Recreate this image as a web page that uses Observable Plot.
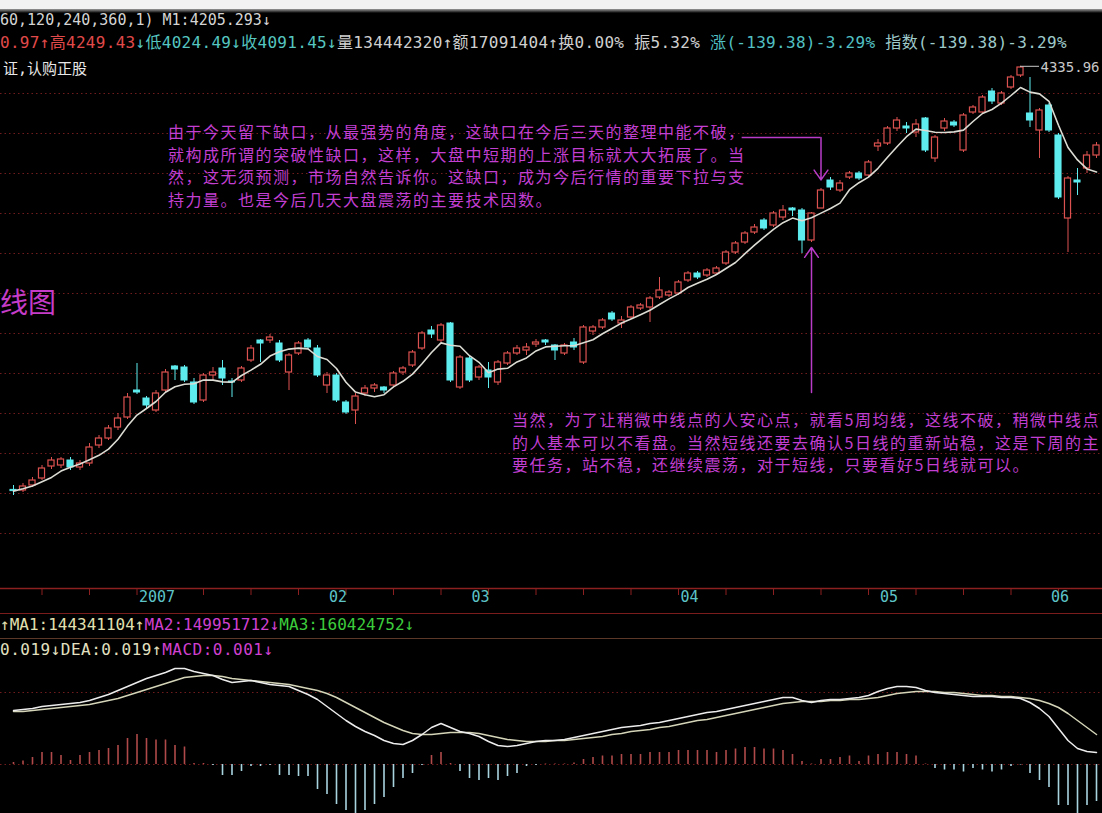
<!DOCTYPE html>
<html><head><meta charset="utf-8">
<script src="https://cdn.jsdelivr.net/npm/d3@7"></script>
<script src="https://cdn.jsdelivr.net/npm/@observablehq/plot@0.6"></script>
<style>
html,body{margin:0;padding:0;background:#000;}
#wrap{position:relative;width:1102px;height:813px;overflow:hidden;background:#000;}
#wrap svg{position:absolute;left:0;}
.t{position:absolute;white-space:nowrap;font-family:"DejaVu Sans Mono","Noto Sans CJK SC",monospace;z-index:5;}
.ann{position:absolute;white-space:nowrap;font-family:"Noto Sans CJK SC",sans-serif;font-size:16px;line-height:22.7px;letter-spacing:1.5px;color:#c23fd2;z-index:5;}
.hl{position:absolute;left:0;width:1102px;height:0;z-index:4;}
</style></head>
<body><div id="wrap"></div>
<script>
// ---------- data (daily candles, index points) ----------
const open = [2218,2215,2240,2275,2335,2340,2365,2330,2350,2440,
2475,2530,2580,2715,2675,2615,2715,2835,2830,2755,
2665,2790,2825,2760,2765,2865,2965,2965,2950,2805,
2900,2965,2925,2740,2790,2655,2615,2700,2725,2730,
2740,2805,2840,2925,3015,2965,3050,2730,2875,2780,
2815,2755,2850,2900,2915,2945,2965,2940,2900,2955,
2855,3010,3030,3100,3050,3080,3125,3130,3180,3190,
3200,3265,3300,3290,3300,3350,3405,3455,3505,3565,
3540,3580,3625,3615,3465,3625,3765,3715,3780,3800,
3790,3935,3950,4025,4035,4005,4075,3875,4025,4055,
3915,4105,4105,4210,4150,4230,4290,4100,4015,4140,
3990,3575,3765,3825,3890];
const high = [2240,2250,2280,2340,2380,2380,2380,2365,2450,2490,
2540,2600,2700,2850,2685,2715,2820,2840,2840,2775,
2800,2830,2865,2775,2835,2940,2970,2995,2965,2900,
2960,2975,2940,2805,2800,2665,2700,2740,2750,2735,
2810,2835,2915,3010,3035,3050,3055,2890,2885,2840,
2855,2865,2910,2940,2950,2970,2970,2945,2950,2975,
3040,3040,3075,3110,3085,3140,3150,3185,3280,3215,
3265,3310,3310,3325,3335,3415,3460,3510,3545,3575,
3610,3640,3630,3625,3605,3725,3780,3765,3810,3810,
3865,3970,4035,4080,4055,4070,4080,3990,4075,4065,
4100,4140,4190,4225,4210,4290,4335.96,4280,4125,4150,
4000,3785,3825,3910,3955];
const low = [2190,2205,2230,2265,2320,2325,2315,2315,2335,2425,
2465,2515,2570,2695,2625,2605,2705,2765,2755,2645,
2655,2765,2740,2680,2755,2855,2855,2950,2855,2715,
2890,2920,2780,2700,2655,2595,2545,2685,2705,2700,
2730,2790,2830,2915,2975,2955,2755,2720,2755,2765,
2725,2740,2840,2890,2890,2930,2940,2865,2890,2915,
2845,2990,3020,3060,3025,3070,3115,3055,3170,3180,
3190,3255,3270,3280,3290,3340,3395,3445,3495,3515,
3530,3565,3585,3400,3455,3625,3715,3705,3770,3765,
3780,3910,3940,4010,4000,3980,3905,3855,4010,4030,
3905,4095,4095,4145,4140,4220,4280,4030,3875,4005,
3670,3405,3690,3800,3875];
const close = [2212,2235,2265,2325,2365,2370,2330,2350,2430,2475,
2525,2575,2680,2705,2640,2700,2805,2820,2765,2655,
2790,2805,2775,2755,2825,2925,2950,2980,2865,2890,
2950,2930,2790,2790,2665,2605,2685,2725,2740,2715,
2800,2825,2905,3000,2995,3040,2765,2880,2765,2830,
2780,2855,2900,2925,2930,2955,2955,2915,2940,2930,
3030,3030,3065,3070,3065,3130,3140,3175,3215,3205,
3255,3300,3280,3315,3325,3405,3450,3500,3530,3525,
3600,3615,3615,3465,3600,3715,3730,3750,3800,3775,
3855,3950,4025,4065,4025,4045,3915,3980,4060,4040,
4090,4130,4180,4160,4200,4280,4330,4065,4115,4015,
3680,3775,3755,3890,3940];
// MACD indicator values
const dif = [108,110,112,116,118,120,122,124,128,134,
140,148,156,164,172,178,184,192,192,186,
182,178,170,164,166,168,164,160,158,156,
148,140,130,116,102,88,76,66,58,48,
42,40,48,60,74,82,74,66,62,56,
46,38,36,38,42,46,48,48,50,54,
58,62,66,70,74,76,78,82,84,88,
92,96,100,104,106,110,114,118,122,126,
130,134,134,128,124,128,130,130,132,134,
138,146,152,156,156,154,148,144,142,140,
138,136,136,136,134,134,132,124,112,96,
72,48,32,26,24];
const dea = [106,106,108,110,112,114,116,118,120,124,
128,132,138,144,150,156,162,168,174,176,
178,178,176,172,170,168,166,164,162,160,
156,152,148,142,134,124,114,104,94,84,
76,68,62,60,60,62,64,64,64,62,
58,54,50,48,46,46,46,48,48,50,
52,54,56,60,62,66,68,70,74,76,
80,84,88,90,94,98,102,106,110,114,
118,122,124,126,126,126,128,128,130,130,
132,134,138,142,144,146,146,146,144,144,
142,140,138,138,136,136,134,132,128,122,
114,102,88,74,60];
const macdHist = [4,7,14,24,24,18,8,18,24,28,
32,38,52,60,52,49,49,38,35,2,
2,-2,-22,-22,-14,-4,-4,-2,-22,-22,
-24,-24,-50,-60,-80,-92,-98,-92,-80,-66,
-46,-28,-18,-2,18,24,2,-14,-28,-32,
-28,-32,-24,-18,-4,-2,1,1,1,3,
10,14,17,17,20,20,20,24,24,24,
28,28,28,28,24,28,31,34,34,31,
31,28,20,6,1,10,10,14,17,6,
17,20,24,24,20,17,1,-8,-11,-11,
-15,-8,-11,-15,-11,-4,-1,-18,-32,-46,
-82,-82,-99,-82,-74];
const gridLevels = [4200,4000,3800,3600,3400,3200,3000,2800,2600,2400,2200,2000];
const monthIdx = [13,33,48,70,91,109];
const monthLabels = ["2007","02","03","04","05","06"];
const weekTicks = [3,8,13,20,25,30,35,40,45,50,55,60,65,70,75,80,85,90,95,100,105,110];
const peak = [{i:106, v:4335.96}];
const annotLines = [{x1:76.7, x2:85, y:3980}];
const annotArrows = [{x1:85, y1:3980, x2:85, y2:3768},{x1:84, y1:2705, x2:84, y2:3430}];
const annot1 = ["由于今天留下缺口，从最强势的角度，这缺口在今后三天的整理中能不破，",
"就构成所谓的突破性缺口，这样，大盘中短期的上涨目标就大大拓展了。当",
"然，这无须预测，市场自然告诉你。这缺口，成为今后行情的重要下拉与支",
"持力量。也是今后几天大盘震荡的主要技术因数。"];
const annot2 = ["当然，为了让稍微中线点的人安心点，就看5周均线，这线不破，稍微中线点",
"的人基本可以不看盘。当然短线还要去确认5日线的重新站稳，这是下周的主",
"要任务，站不稳，还继续震荡，对于短线，只要看好5日线就可以。"];

// ---------- build ----------
const RED = "#dc5250", CYAN = "#5eecef", GRID = "#701c1c", AX = "#8c2020", MAG = "#b83cc8";
const data = close.map((c, i) => ({i, o: open[i], h: high[i], l: low[i], c}));
const up = data.filter(d => d.c >= d.o), dn = data.filter(d => d.c < d.o);
const xDomain = [-13 / 9.5, 1089 / 9.5];
const hw = 0.32;
const mono = "DejaVu Sans Mono, monospace";

const main = Plot.plot({
  width: 1102, height: 640, marginTop: 0, marginRight: 0, marginBottom: 52, marginLeft: 0,
  style: {background: "transparent", color: "#ccc", overflow: "visible"},
  x: {type: "linear", domain: xDomain, axis: null},
  y: {type: "linear", domain: [1725, 4665], axis: null},
  marks: [
    Plot.ruleY(gridLevels, {stroke: GRID, strokeDasharray: "1.5,3"}),
    Plot.ruleY([1725], {stroke: AX, strokeWidth: 1.5}),
    Plot.axisX({ticks: weekTicks, tickSize: 7, color: AX, tickFormat: () => ""}),
    Plot.text(monthIdx, {x: d => d, frameAnchor: "bottom", dy: 13, dx: 2, textAnchor: "start",
      text: (d, k) => monthLabels[k], fill: "#5ec4c8", fontSize: 15, fontFamily: mono}),
    // candles
    Plot.ruleX(up, {x: "i", y1: "c", y2: "h", stroke: RED}),
    Plot.ruleX(up, {x: "i", y1: "l", y2: "o", stroke: RED}),
    Plot.ruleX(dn, {x: "i", y1: "l", y2: "h", stroke: CYAN}),
    Plot.rect(up, {x1: d => d.i - hw, x2: d => d.i + hw, y1: "o", y2: "c", fill: "#000", stroke: RED, strokeWidth: 1.2}),
    Plot.rect(dn, {x1: d => d.i - hw, x2: d => d.i + hw, y1: "o", y2: "c", fill: CYAN, stroke: CYAN}),
    // 5-day moving average
    Plot.lineY(data, Plot.windowY({k: 5, anchor: "end"}, {x: "i", y: "c", stroke: "#dcdcd4", strokeWidth: 1.6})),
    // annotations
    Plot.ruleY(annotLines, {x1: "x1", x2: "x2", y: "y", stroke: MAG, strokeWidth: 1.5}),
    Plot.arrow(annotArrows, {x1: "x1", y1: "y1", x2: "x2", y2: "y2", stroke: MAG, strokeWidth: 1.5, headLength: 12, headAngle: 70}),
    Plot.ruleY(peak, {x1: "i", x2: d => d.i + 2, y: "v", stroke: "#c8c8c8"}),
    Plot.text(peak, {x: "i", y: "v", text: d => d.v.toFixed(2), dx: 20, dy: 1, textAnchor: "start", fill: "#c8c8c8", fontSize: 14, fontFamily: mono})
  ]
});
main.style.top = "0px";

const hist = macdHist.map((v, i) => ({i, v}));
const mac = Plot.plot({
  width: 1102, height: 173, margin: 0,
  style: {background: "transparent", color: "#ccc"},
  x: {type: "linear", domain: xDomain, axis: null},
  y: {type: "linear", domain: [-98, 248], axis: null},
  marks: [
    Plot.ruleY([0, 144], {stroke: GRID, strokeDasharray: "1.5,3"}),
    Plot.ruleX(hist.filter(d => d.v >= 0), {x: "i", y1: 0, y2: "v", stroke: "#b04a4a", strokeWidth: 1.6}),
    Plot.ruleX(hist.filter(d => d.v < 0), {x: "i", y1: 0, y2: "v", stroke: "#a8d4e0", strokeWidth: 1.6}),
    Plot.lineY(dea, {x: (d, i) => i, y: d => d, stroke: "#d4d4b8", strokeWidth: 1.5}),
    Plot.lineY(dif, {x: (d, i) => i, y: d => d, stroke: "#ececec", strokeWidth: 1.5})
  ]
});
mac.style.top = "640px";

const wrap = document.getElementById("wrap");
wrap.appendChild(main);
wrap.appendChild(mac);

function el(cls, css, html) {
  const d = document.createElement("div");
  d.className = cls; d.style.cssText = css; d.innerHTML = html; wrap.appendChild(d); return d;
}
// top band
el("hl", "top:0;height:9px;background:#f2f2f2;", "");
el("hl", "top:9px;height:4px;background:linear-gradient(#9a9a9a,#000);", "");
// header
el("t", "left:0;top:11px;font-size:15px;line-height:18px;color:#d4d4d4;", "60,120,240,360,1) M1:4205.293↓");
el("t", "left:0;top:34px;font-size:16px;line-height:18px;letter-spacing:0.3px;color:#d0d0d0;",
  '<span style="color:#e04a4a">0.97↑高4249.43</span><span style="color:#56c6c0">↓低4024.49↓收4091.45↓</span>' +
  '<span>量134442320↑额17091404↑换0.00% 振5.32% </span><span style="color:#52c0c4">涨(-139.38)-3.29%</span> ' +
  '<span style="color:#9ecaca">指数(-139.38)-3.29%</span>');
el("t", "left:3px;top:60px;font-size:15px;line-height:18px;color:#e8e8e8;", "证,认购正股");
el("t", "left:0;top:283px;font-size:28px;line-height:36px;color:#c43cc8;font-family:'Noto Sans CJK SC',sans-serif;", "线图");
// annotations
el("ann", "left:168px;top:120px;", annot1.join("<br>"));
el("ann", "left:512px;top:408px;", annot2.join("<br>"));
// separators + indicator rows
el("hl", "top:613px;border-top:1px solid #7a1c1c;", "");
el("hl", "top:638px;border-top:1px solid #5c3828;", "");
el("t", "left:0;top:616px;font-size:16px;line-height:18px;color:#e2e0b0;",
  '↑MA1:144341104↑<span style="color:#d040d0">MA2:149951712↓</span><span style="color:#3ccc3c">MA3:160424752↓</span>');
el("t", "left:0;top:641px;font-size:16px;line-height:18px;letter-spacing:0.5px;color:#e2e0c0;",
  '0.019↓DEA:0.019↑<span style="color:#d040d0">MACD:0.001↓</span>');
</script></body></html>
